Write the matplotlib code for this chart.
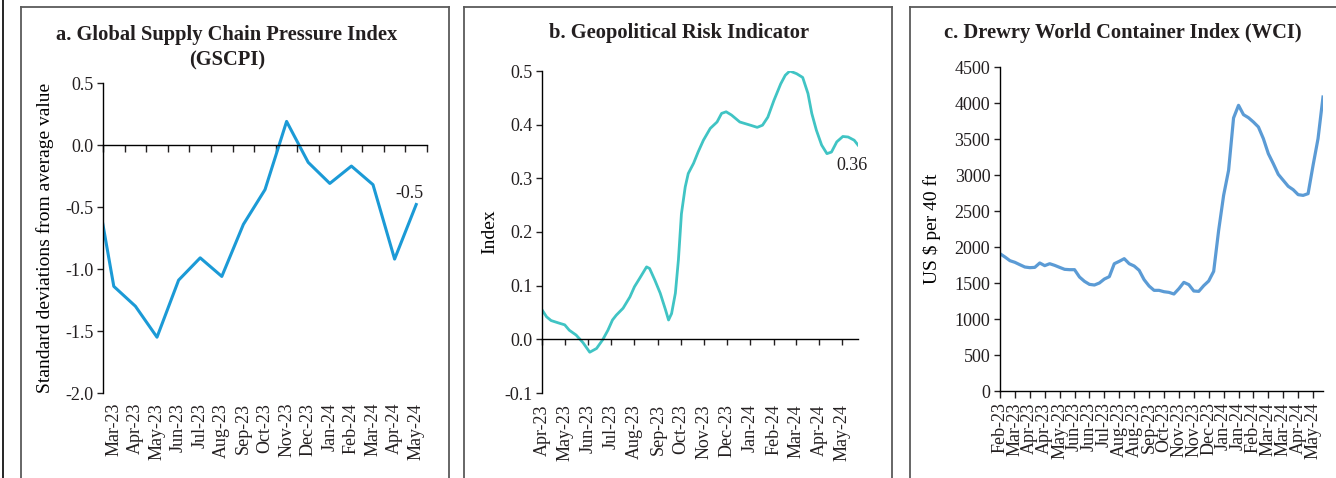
import numpy as np
import pandas as pd
import matplotlib
matplotlib.use('Agg')
import matplotlib.pyplot as plt
import matplotlib.dates as mdates
from matplotlib.lines import Line2D

# -----------------------------------------------------------------------------
# data

# a. GSCPI, monthly (Feb-23 sits just outside the plotted range)
gscpi_months = ['Feb-23', 'Mar-23', 'Apr-23', 'May-23', 'Jun-23', 'Jul-23', 'Aug-23',
                'Sep-23', 'Oct-23', 'Nov-23', 'Dec-23', 'Jan-24', 'Feb-24', 'Mar-24',
                'Apr-24', 'May-24']
gscpi_values = [-0.15, -1.14, -1.30, -1.55, -1.09, -0.91, -1.06, -0.64, -0.36, 0.19,
                -0.14, -0.31, -0.17, -0.32, -0.92, -0.48]

# b. Geopolitical risk indicator
gpr_dates = ['2023-04-01', '2023-04-07', '2023-04-13', '2023-04-24', '2023-05-01',
             '2023-05-07', '2023-05-16', '2023-05-25', '2023-06-03', '2023-06-12',
             '2023-06-20', '2023-06-27', '2023-07-03', '2023-07-08', '2023-07-17',
             '2023-07-26', '2023-08-01', '2023-08-08', '2023-08-17', '2023-08-21',
             '2023-08-28', '2023-09-04', '2023-09-11', '2023-09-15', '2023-09-19',
             '2023-09-24', '2023-09-28', '2023-10-02', '2023-10-07', '2023-10-11',
             '2023-10-18', '2023-10-24', '2023-10-31', '2023-11-09', '2023-11-18',
             '2023-11-24', '2023-11-30', '2023-12-07', '2023-12-18', '2024-01-01',
             '2024-01-10', '2024-01-17', '2024-01-24', '2024-02-01', '2024-02-10',
             '2024-02-16', '2024-02-22', '2024-03-02', '2024-03-10', '2024-03-17',
             '2024-03-22', '2024-03-28', '2024-04-04', '2024-04-11', '2024-04-17',
             '2024-04-24', '2024-05-02', '2024-05-09', '2024-05-17', '2024-05-22']
gpr_values = [0.055, 0.042, 0.035, 0.030, 0.027, 0.017, 0.008, -0.006, -0.024, -0.017,
              -0.001, 0.017, 0.036, 0.045, 0.058, 0.079, 0.098, 0.114, 0.135, 0.132,
              0.110, 0.086, 0.055, 0.036, 0.048, 0.086, 0.148, 0.234, 0.284, 0.309,
              0.328, 0.349, 0.371, 0.393, 0.405, 0.421, 0.424, 0.418, 0.405, 0.399,
              0.395, 0.399, 0.414, 0.445, 0.476, 0.492, 0.500, 0.495, 0.488, 0.458,
              0.421, 0.390, 0.362, 0.346, 0.349, 0.368, 0.378, 0.377, 0.371, 0.362]
gpr_ticks = ['Apr-23', 'May-23', 'Jun-23', 'Jul-23', 'Aug-23', 'Sep-23', 'Oct-23',
             'Nov-23', 'Dec-23', 'Jan-24', 'Feb-24', 'Mar-24', 'Apr-24', 'May-24']

# c. Drewry WCI, weekly (US$ per 40ft)
wci_values = [1907, 1861, 1810, 1787, 1754, 1722, 1713, 1717, 1778, 1741, 1768, 1745,
              1717, 1690, 1685, 1685, 1583, 1523, 1481, 1472, 1500, 1555, 1588, 1768,
              1801, 1838, 1768, 1736, 1676, 1546, 1458, 1398, 1398, 1379, 1370, 1347,
              1421, 1509, 1477, 1389, 1384, 1463, 1528, 1662, 2231, 2717, 3065, 3792,
              3968, 3838, 3796, 3736, 3667, 3505, 3296, 3157, 3009, 2926, 2843, 2796,
              2727, 2717, 2741, 3134, 3505, 4083]
wci_ticks = ['Feb-23', 'Mar-23', 'Apr-23', 'Apr-23', 'May-23', 'Jun-23', 'Jun-23',
             'Jul-23', 'Aug-23', 'Aug-23', 'Sep-23', 'Oct-23', 'Nov-23', 'Nov-23',
             'Dec-23', 'Jan-24', 'Jan-24', 'Feb-24', 'Mar-24', 'Mar-24', 'Apr-24',
             'May-24']

# -----------------------------------------------------------------------------
# style

plt.rcParams['font.family'] = ['Liberation Serif', 'DejaVu Serif']
plt.rcParams['font.size'] = 13
plt.rcParams['axes.unicode_minus'] = False
plt.rcParams['text.color'] = '#231f20'
plt.rcParams['xtick.color'] = '#231f20'
plt.rcParams['ytick.color'] = '#231f20'

TICK_FS = 13
LABEL_FS = 14
TITLE_FS = 14.8

W, H = 1336, 478
fig = plt.figure(figsize=(W / 100, H / 100), dpi=100)


def px_axes(l, t, r, b):
    return fig.add_axes([l / W, 1 - b / H, (r - l) / W, (b - t) / H])


def frame(l, r):
    c = '#5a5a5a'
    fig.add_artist(Line2D([l / W, l / W], [0, 1 - 7 / H], color=c, lw=1.3))
    fig.add_artist(Line2D([l / W, r / W], [1 - 7 / H, 1 - 7 / H], color=c, lw=1.3))
    fig.add_artist(Line2D([r / W, r / W], [0, 1 - 7 / H], color=c, lw=1.3))


def base_style(ax):
    for s in ['top', 'right']:
        ax.spines[s].set_visible(False)
    ax.spines['left'].set_linewidth(1.0)
    ax.spines['bottom'].set_linewidth(1.0)
    ax.tick_params(axis='y', direction='out', length=4, width=1.0, pad=3,
                   labelsize=TICK_FS)
    ax.tick_params(axis='x', direction='out', length=5, width=1.0)


fig.add_artist(Line2D([3 / W, 3 / W], [0, 1], color='black', lw=1.2))
frame(21, 449)
frame(464, 892)
frame(910, 1400)

# -----------------------------------------------------------------------------
# a. GSCPI

ax = px_axes(103, 83, 427, 393)
base_style(ax)
xa = np.arange(len(gscpi_values)) - 1
ax.plot(xa, gscpi_values, color='#1b9ad6', lw=2.2)
ax.set_xlim(-0.5, 14.5)
ax.set_ylim(-2.0, 0.5)
ax.set_yticks(np.arange(-2.0, 0.51, 0.5))
ax.yaxis.set_major_formatter(plt.FormatStrFormatter('%.1f'))
ax.spines['bottom'].set_position(('data', 0))
ax.set_xticks(np.arange(-0.5, 14.6, 1))
ax.set_xticklabels([])
sec = ax.secondary_xaxis('bottom')
sec.set_xticks(range(15), labels=gscpi_months[1:], rotation=90)
sec.tick_params(length=0, pad=7, labelsize=TICK_FS)
sec.spines['bottom'].set_visible(False)
ax.set_ylabel('Standard deviations from average value', fontsize=LABEL_FS, labelpad=8)
ax.text(13.7, -0.39, '-0.5', ha='center', va='center', fontsize=TICK_FS)
fig.text(227 / W, 1 - 48 / H, 'a. Global Supply Chain Pressure Index\n(GSCPI)',
         ha='center', va='center', fontsize=TITLE_FS, fontweight='bold',
         linespacing=1.35)

# -----------------------------------------------------------------------------
# b. Geopolitical Risk

ax = px_axes(542, 71, 858, 393)
base_style(ax)
xb = mdates.date2num(pd.to_datetime(gpr_dates))
ax.plot(xb, gpr_values, color='#40c4c4', lw=2.0)
ax.set_xlim(mdates.date2num(pd.Timestamp('2023-04-01')),
            mdates.date2num(pd.Timestamp('2024-05-22')))
ax.set_ylim(-0.1, 0.5)
ax.set_yticks(np.arange(-0.1, 0.51, 0.1))
ax.yaxis.set_major_formatter(plt.FormatStrFormatter('%.1f'))
ax.spines['bottom'].set_position(('data', 0))
tick_pos = mdates.date2num(pd.date_range('2023-04-01', '2024-05-01', freq='MS'))
ax.set_xticks(tick_pos)
ax.set_xticklabels([])
ax.tick_params(axis='x', length=4)
sec = ax.secondary_xaxis('bottom')
sec.set_xticks(tick_pos, labels=gpr_ticks, rotation=90)
sec.tick_params(length=0, pad=8, labelsize=TICK_FS)
sec.spines['bottom'].set_visible(False)
ax.set_ylabel('Index', fontsize=LABEL_FS, labelpad=4)
ax.text(mdates.date2num(pd.Timestamp('2024-05-14')), 0.323, '0.36',
        ha='center', va='center', fontsize=TICK_FS)
fig.text(679 / W, 1 - 33 / H, 'b. Geopolitical Risk Indicator',
         ha='center', va='center', fontsize=TITLE_FS, fontweight='bold')

# -----------------------------------------------------------------------------
# c. Drewry WCI

ax = px_axes(1000, 67, 1323, 391)
base_style(ax)
xc = np.arange(len(wci_values))
ax.plot(xc, wci_values, color='#5b9bd5', lw=2.3)
ax.set_xlim(0, len(wci_values) - 1)
ax.set_ylim(0, 4500)
ax.set_yticks(np.arange(0, 4501, 500))
ax.set_xticks(xc[::3], labels=wci_ticks, rotation=90)
ax.tick_params(axis='x', length=5, pad=3, labelsize=TICK_FS)
ax.set_ylabel('US $ per 40 ft', fontsize=LABEL_FS, labelpad=10)
fig.text(1123 / W, 1 - 33 / H, 'c. Drewry World Container Index (WCI)',
         ha='center', va='center', fontsize=TITLE_FS, fontweight='bold')

fig.savefig('out.png', dpi=100)
